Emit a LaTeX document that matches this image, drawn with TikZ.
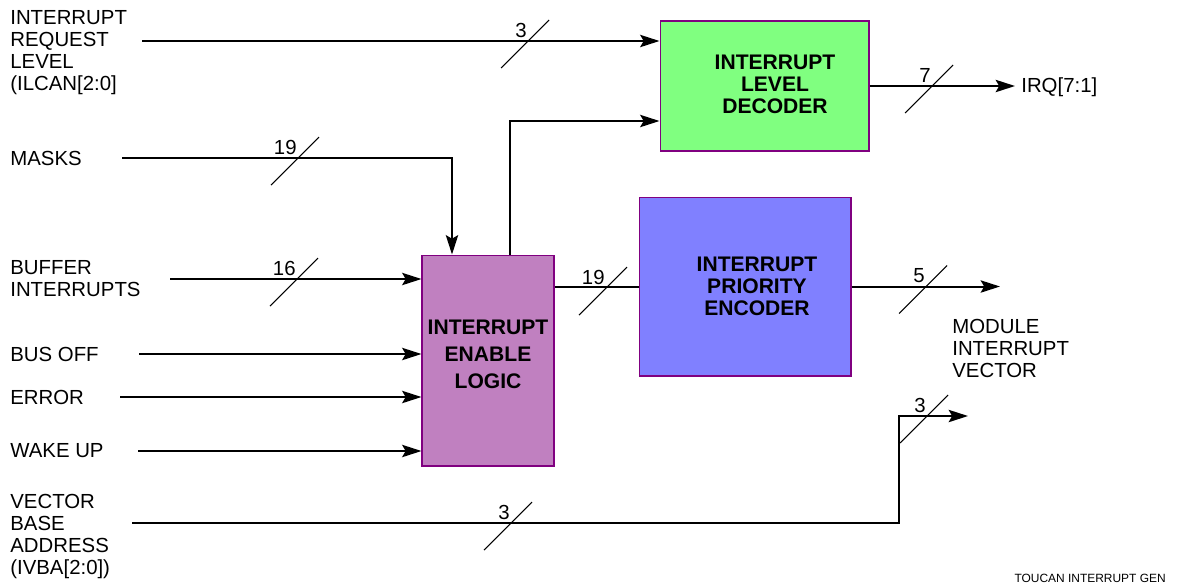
\documentclass[tikz,border=0pt]{standalone}
\usepackage{fontspec}
\setmainfont{Liberation Sans}
\usetikzlibrary{arrows.meta,calc}
\definecolor{lvlgreen}{RGB}{128,255,128}
\definecolor{prioblue}{RGB}{128,128,255}
\definecolor{enbpurple}{RGB}{192,128,192}
\definecolor{edgepurple}{RGB}{128,0,128}

\newcommand{\lblfont}{\fontsize{11.6}{12.5}\selectfont}
\newcommand{\blkfont}{\fontsize{12}{12.5}\selectfont\bfseries}
% bus width mark: crossing x, crossing y, width, name
\newcommand{\busmark}[4]{%
  \draw[slashln] (#1-27,#2+27) -- (#1+21,#2-21);
  \node[buslbl] (#4) at (#1-1,#2-4) {#3};}

\begin{document}
\begin{tikzpicture}[x=0.02cm,y=-0.02cm,
  sig/.style={line width=1.15pt},
  arr/.style={sig,-{Stealth[length=11pt,width=7pt,inset=2pt]}},
  slashln/.style={line width=0.6pt},
  blk/.style={draw=edgepurple,line width=0.6pt},
  blktxt/.style={align=center,font=\blkfont,inner sep=0pt},
  lbl/.style={align=left,font=\lblfont,inner sep=0pt},
  buslbl/.style={anchor=base east,font=\lblfont,inner sep=0pt}]
  \useasboundingbox (0,0) rectangle (1182,586);

  % blocks
  \node[blk,fill=lvlgreen,minimum width=4.18cm,minimum height=2.6cm] (decoder) at (764.5,86) {};
  \node[blk,fill=prioblue,minimum width=4.24cm,minimum height=3.58cm] (prio) at (745,286.5) {};
  \node[blk,fill=enbpurple,minimum width=2.64cm,minimum height=4.22cm] (enable) at (488,360.5) {};
  \node[blktxt] (decodertxt) at (775,84) {INTERRUPT\\LEVEL\\DECODER};
  \node[blktxt] (priotxt) at (757,286) {INTERRUPT\\PRIORITY\\ENCODER};
  \node[blktxt,font=\fontsize{12}{15.3}\selectfont\bfseries] (enabletxt) at (488,354.5) {INTERRUPT\\ENABLE\\LOGIC};

  % signal names
  \node[lbl,anchor=north west] (ilcan) at (10,10) {INTERRUPT\\REQUEST\\LEVEL\\(ILCAN[2:0]};
  \node[lbl,anchor=west] (masks) at (10,158) {MASKS};
  \node[lbl,anchor=north west] (bufint) at (10,260) {BUFFER\\INTERRUPTS};
  \node[lbl,anchor=west] (busoff) at (10,354) {BUS OFF};
  \node[lbl,anchor=west] (error) at (10,397) {ERROR};
  \node[lbl,anchor=west] (wakeup) at (10,451) {WAKE UP};
  \node[lbl,anchor=north west] (ivba) at (10,494) {VECTOR\\BASE\\ADDRESS\\(IVBA[2:0])};
  \node[lbl,anchor=west] (irq) at (1021,87) {IRQ[7:1]};
  \node[lbl,anchor=north west] (modvec) at (952,319) {MODULE\\INTERRUPT\\VECTOR};
  \node[anchor=east,inner sep=0pt,font=\fontsize{6.8}{8}\selectfont] (title) at (1166,578) {TOUCAN INTERRUPT GEN};

  % line ends
  \coordinate (ilcanin) at (142,41);
  \coordinate (masksin) at (122,158);
  \coordinate (bufin) at (170,279);
  \coordinate (busoffin) at (139,354);
  \coordinate (errorin) at (120,397);
  \coordinate (wakeupin) at (138,451);
  \coordinate (ivbain) at (132,523);
  \coordinate (ivbacorner) at (899,416);
  \coordinate (ivbaend) at (968,416);
  \coordinate (vecend) at (1000,286.5);
  \coordinate (irqend) at (1015,86);

  % connectors
  \draw[arr] (ilcanin) -- (ilcanin -| decoder.west);
  \draw[arr] ($(enable.north)+(22,0)$) |- ($(decoder.west)+(0,35)$);
  \draw[arr] (masksin) -| ($(enable.north)+(-36,0)$);
  \draw[arr] (bufin) -- (bufin -| enable.west);
  \draw[arr] (busoffin) -- (busoffin -| enable.west);
  \draw[arr] (errorin) -- (errorin -| enable.west);
  \draw[arr] (wakeupin) -- (wakeupin -| enable.west);
  \draw[sig] (enable.east |- prio.west) -- (prio.west);
  \draw[arr] (prio.east) -- (vecend);
  \draw[arr] (decoder.east) -- (irqend);
  \draw[arr] (ivbain) -| (ivbacorner) -- (ivbaend);

  % bus widths
  \busmark{528}{41}{3}{wilcan}
  \busmark{298}{158}{19}{wmasks}
  \busmark{297}{279}{16}{wbuf}
  \busmark{606}{288}{19}{wenable}
  \busmark{932}{86}{7}{wirq}
  \busmark{926}{286.5}{5}{wvec}
  \busmark{511}{523}{3}{wivba}
  \busmark{927}{416}{3}{wivbaout}
\end{tikzpicture}
\end{document}
